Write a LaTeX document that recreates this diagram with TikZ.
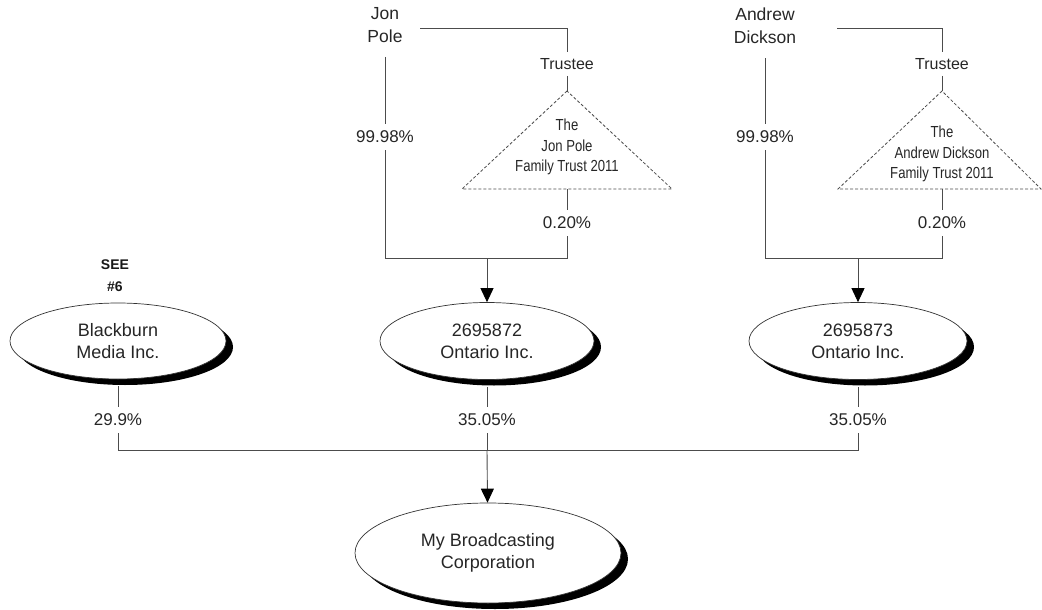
\documentclass[tikz,border=0pt]{standalone}
\usepackage{fontspec}
\setmainfont{Liberation Sans}
\newfontfamily\narrowfont[FakeStretch=0.82]{Liberation Sans}
\usetikzlibrary{arrows.meta,shadows,shapes.geometric}
\begin{document}
\begin{tikzpicture}[x=1pt,y=-1pt,
  conn/.style={draw=black!70, line width=0.9pt},
  arr/.style={conn, -{Triangle[width=13pt,length=14pt,color=black]}},
  ent/.style={ellipse, draw=black!80, line width=0.7pt, fill=white, inner sep=0pt, align=center,
    font=\fontsize{18}{22}\selectfont, text=black!85,
    general shadow={fill=black, shadow xshift=7pt, shadow yshift=-6pt}},
  pct/.style={fill=white, inner xsep=2pt, inner ysep=7pt, font=\fontsize{17}{20}\selectfont, text=black!85},
  person/.style={align=center, font=\fontsize{17.5}{23}\selectfont, text=black!85, inner xsep=0pt, inner ysep=14pt},
  trusteelbl/.style={font=\fontsize{16}{19}\selectfont, inner ysep=6pt, inner xsep=2pt, text=black!85},
  trusttext/.style={align=center, font=\narrowfont\fontsize{16}{20.5}\selectfont, text=black!85},
  trustshape/.style={draw=black!70, line width=0.8pt, dash pattern=on 3pt off 2pt},
  seenote/.style={align=center, font=\bfseries\fontsize{14}{22}\selectfont, text=black!90}
]
\useasboundingbox (0,0) rectangle (1042,610);

% ---------- Jon Pole branch ----------
\node[person] (jp) at (385,25) {Jon\\Pole};
\coordinate (jpout) at (420,28);
\node[trusteelbl] (t1) at (567,64) {Trustee};
\coordinate (a1) at (567,91);
\coordinate (b1l) at (462,189);
\coordinate (b1r) at (672,189);
\coordinate (b1) at (567,189);
\draw[trustshape] (a1) -- (b1l) -- (b1r) -- cycle;
\node[trusttext] (tt1) at (567,147) {The\\Jon Pole\\Family Trust 2011};
\draw[conn] (jpout) -| (t1.north);
\draw[conn] (t1) -- (a1);
\node[pct] (p1) at (385,137) {99.98\%};
\node[pct] (q1) at (567,223) {0.20\%};
\coordinate (c1l) at (385,258);
\coordinate (c1r) at (567,258);
\coordinate (m1) at (487,258);
\draw[conn] (jp.south) -- (p1) -- (c1l) -- (c1r) -- (q1) -- (b1);

% ---------- Andrew Dickson branch ----------
\node[person] (ad) at (765,26) {Andrew\\Dickson};
\coordinate (adout) at (837,28);
\node[trusteelbl] (t2) at (942,64) {Trustee};
\coordinate (a2) at (942,91);
\coordinate (b2l) at (838,189);
\coordinate (b2r) at (1041,189);
\coordinate (b2) at (942,189);
\draw[trustshape] (a2) -- (b2l) -- (b2r) -- cycle;
\node[trusttext] (tt2) at (942,154) {The\\Andrew Dickson\\Family Trust 2011};
\draw[conn] (adout) -| (t2.north);
\draw[conn] (t2) -- (a2);
\node[pct] (p2) at (765,137) {99.98\%};
\node[pct] (q2) at (942,223) {0.20\%};
\coordinate (c2l) at (765,258);
\coordinate (c2r) at (942,258);
\coordinate (m2) at (858,258);
\draw[conn] (ad.south) -- (p2) -- (c2l) -- (c2r) -- (q2) -- (b2);

% ---------- Entities ----------
\node[seenote] (see) at (115,276) {SEE\\\#6};
\node[ent, minimum width=216pt, minimum height=76pt] (bmi) at (118,341) {Blackburn\\Media Inc.};
\node[ent, minimum width=214pt, minimum height=77pt] (o72) at (487,341) {2695872\\Ontario Inc.};
\node[ent, minimum width=218pt, minimum height=77pt] (o73) at (858,341) {2695873\\Ontario Inc.};
\node[ent, minimum width=266pt, minimum height=100pt] (mbc) at (488,553) {My Broadcasting\\Corporation};

\draw[arr] (m1) -- (o72);
\draw[arr] (m2) -- (o73);

% ---------- Lower level ----------
\node[pct] (r1) at (118,420) {29.9\%};
\node[pct] (r2) at (487,420) {35.05\%};
\node[pct] (r3) at (858,420) {35.05\%};
\coordinate (h1) at (118,450);
\coordinate (h2) at (487,450);
\coordinate (h3) at (858,450);
\draw[conn] ([yshift=-7pt]bmi.south) -- (r1) -- (h1) -- (h3) -- (r3) -- ([yshift=-7pt]o73.south);
\draw[conn] ([yshift=-7pt]o72.south) -- (r2) -- (h2);
\draw[arr] (h2) -- (mbc);
\end{tikzpicture}
\end{document}
